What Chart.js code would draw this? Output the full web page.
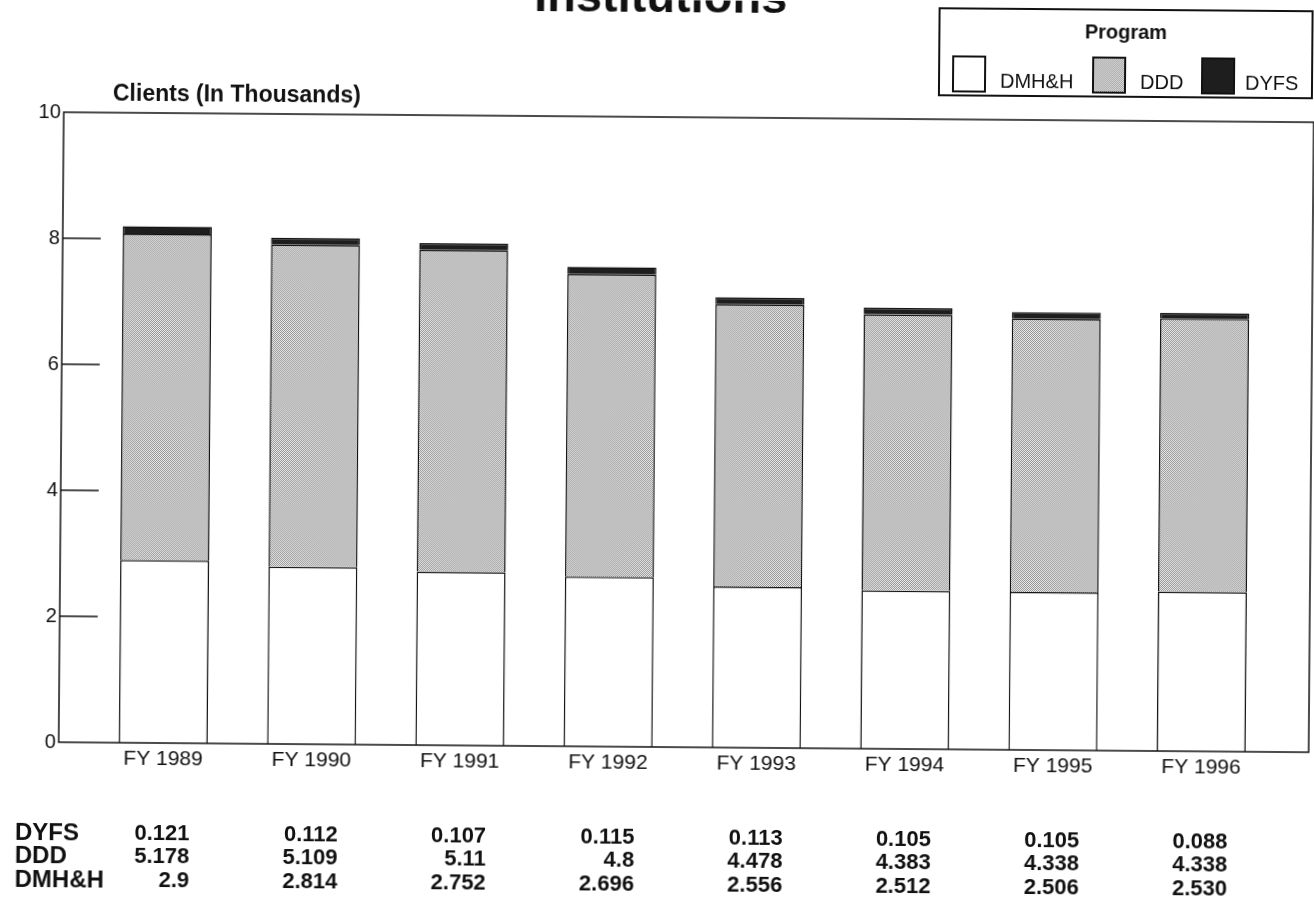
<!DOCTYPE html>
<html>
<head>
<meta charset="utf-8">
<script src="https://cdn.jsdelivr.net/npm/chart.js@4.4.1/dist/chart.umd.min.js"></script>
<style>
  html, body { margin: 0; padding: 0; background: #fff; overflow: hidden; }
  /* the scanned page is slightly turned, so the whole chart is too */
  #wrap { position: relative; width: 1314px; height: 914px; transform: rotate(0.46deg); transform-origin: 657px 457px; }
</style>
</head>
<body>
<div id="wrap"><canvas id="chart" width="1314" height="914"></canvas></div>
<script>
const years = ['FY 1989', 'FY 1990', 'FY 1991', 'FY 1992', 'FY 1993', 'FY 1994', 'FY 1995', 'FY 1996'];
// values as printed in the table under the chart
const dyfsText = ['0.121', '0.112', '0.107', '0.115', '0.113', '0.105', '0.105', '0.088'];
const dddText = ['5.178', '5.109', '5.11', '4.8', '4.478', '4.383', '4.338', '4.338'];
const dmhhText = ['2.9', '2.814', '2.752', '2.696', '2.556', '2.512', '2.506', '2.530'];
const dyfs = dyfsText.map(Number);
const ddd = dddText.map(Number);
const dmhh = dmhhText.map(Number);
const yTicks = [0, 2, 4, 6, 8, 10];

const FONT = '"Liberation Sans", Arial, Helvetica, sans-serif';

function dotPattern() {
  const c = document.createElement('canvas');
  c.width = 2; c.height = 2;
  const g = c.getContext('2d');
  g.fillStyle = '#f0f0f0';
  g.fillRect(0, 0, 2, 2);
  g.fillStyle = '#909090';
  g.fillRect(0, 0, 1, 1);
  g.fillRect(1, 1, 1, 1);
  return g.createPattern(c, 'repeat');
}

const toXY = (arr) => arr.map((v, i) => ({ x: i, y: v }));

const decor = {
  id: 'decor',
  beforeDraw(chart) {
    const ctx = chart.ctx;
    ctx.save();
    ctx.fillStyle = '#fff';
    ctx.fillRect(0, 0, chart.width, chart.height);
    ctx.restore();
  },
  afterDraw(chart) {
    const ctx = chart.ctx;
    const a = chart.chartArea;
    const ys = chart.scales.y;
    const xs = chart.scales.x;
    ctx.save();

    // frame
    ctx.strokeStyle = '#111';
    ctx.lineWidth = 1.5;
    ctx.strokeRect(a.left, a.top, a.right - a.left, a.bottom - a.top);

    // tick marks pointing into the plot
    ys.ticks.forEach(t => {
      if (t.value === 0 || t.value === 10) return;
      const y = ys.getPixelForValue(t.value);
      ctx.beginPath();
      ctx.moveTo(a.left, y);
      ctx.lineTo(a.left + 38, y);
      ctx.stroke();
    });

    // title (top of it runs off the page)
    ctx.fillStyle = '#111';
    ctx.font = 'bold 47px ' + FONT;
    ctx.textAlign = 'center';
    ctx.textBaseline = 'alphabetic';
    ctx.fillText('Institutions', chart.width / 2, 12);

    // y axis caption
    ctx.font = 'bold 23px ' + FONT;
    ctx.textAlign = 'left';
    ctx.fillText('Clients (In Thousands)', a.left + 49, a.top - 12);

    // legend box
    const bw = 373, bh = 87;
    const bx = a.right - 2 - bw, by = 6;
    ctx.lineWidth = 2;
    ctx.strokeRect(bx, by, bw, bh);
    ctx.font = 'bold 20px ' + FONT;
    ctx.textAlign = 'center';
    ctx.textBaseline = 'middle';
    ctx.fillText('Program', bx + bw / 2, by + 23);
    const sw = [14, 154, 263];
    const tx = [61, 201, 306];
    ctx.font = '20px ' + FONT;
    ctx.textAlign = 'left';
    chart.data.datasets.forEach((ds, i) => {
      ctx.fillStyle = ds.backgroundColor;
      ctx.fillRect(bx + sw[i], by + 48, 32, 35);
      ctx.strokeStyle = '#111';
      ctx.lineWidth = 2;
      ctx.strokeRect(bx + sw[i], by + 48, 32, 35);
      ctx.fillStyle = '#111';
      ctx.fillText(ds.label, bx + tx[i], by + 73);
    });

    // data table under the chart
    const rows = [['DYFS', dyfsText], ['DDD', dddText], ['DMH&H', dmhhText]];
    const rowY = [91, 114, 138];
    rows.forEach((r, k) => {
      const y = a.bottom + rowY[k];
      ctx.font = 'bold 24px ' + FONT;
      ctx.textAlign = 'left';
      ctx.fillText(r[0], 18, y);
      ctx.font = 'bold 22px ' + FONT;
      ctx.textAlign = 'right';
      r[1].forEach((s, i) => {
        ctx.fillText(s, xs.getPixelForValue(i) + 27, y);
      });
    });
    ctx.restore();
  }
};

new Chart(document.getElementById('chart').getContext('2d'), {
  type: 'bar',
  data: {
    datasets: [
      { label: 'DMH&H', data: toXY(dmhh), backgroundColor: '#ffffff' },
      { label: 'DDD', data: toXY(ddd), backgroundColor: dotPattern() },
      { label: 'DYFS', data: toXY(dyfs), backgroundColor: '#1e1e1e' },
    ].map(d => Object.assign(d, {
      borderColor: '#111',
      borderWidth: 1.5,
      barPercentage: 0.6,
      categoryPercentage: 1,
    })),
  },
  options: {
    responsive: false,
    animation: false,
    layout: { padding: { top: 117, right: 3, left: 0, bottom: 0 } },
    plugins: { legend: { display: false }, tooltip: { enabled: false } },
    scales: {
      x: {
        type: 'linear',
        stacked: true,
        min: -0.705,
        max: 7.725,
        offset: false,
        grid: { display: false, drawTicks: false, offset: false },
        border: { display: false },
        afterBuildTicks: s => { s.ticks = years.map((_, i) => ({ value: i })); },
        afterFit: s => { s.height = 167; },
        ticks: {
          callback: v => years[v],
          autoSkip: false,
          maxRotation: 0,
          padding: 4,
          color: '#111',
          font: { family: FONT, size: 21 },
        },
      },
      y: {
        stacked: true,
        min: 0,
        max: 10,
        grid: { display: false, drawTicks: false },
        border: { display: false },
        afterBuildTicks: s => { s.ticks = yTicks.map(v => ({ value: v })); },
        afterFit: s => { s.width = 61; },
        ticks: {
          padding: 3,
          color: '#111',
          font: { family: FONT, size: 20 },
        },
      },
    },
  },
  plugins: [decor],
});
</script>
</body>
</html>
